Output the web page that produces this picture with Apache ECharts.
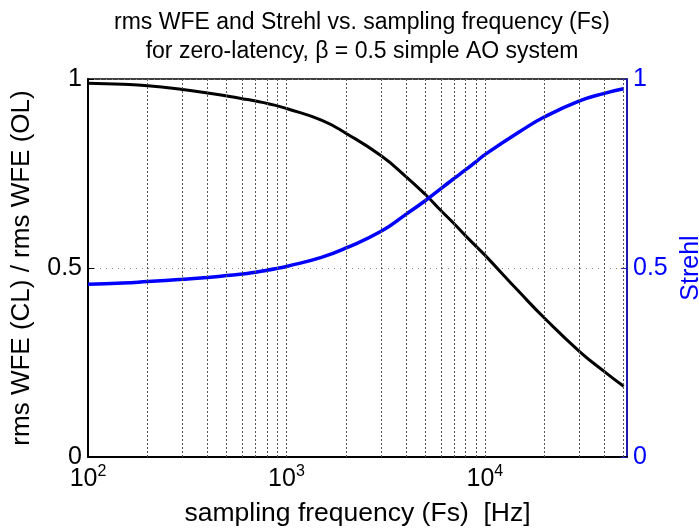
<!DOCTYPE html>
<html>
<head>
<meta charset="utf-8">
<script src="https://cdn.jsdelivr.net/npm/echarts@6/dist/echarts.min.js"></script>
<style>html,body{margin:0;padding:0;background:#fff;}#c{width:699px;height:531px;}</style>
</head>
<body>
<div id="c"></div>
<script>
// ---- data ----
var fsValues = [100, 150, 200, 300, 400, 500, 600, 700, 800, 900, 1000, 1500, 2000, 3000, 4000, 5000, 6000, 7000, 8000, 9000, 10000, 15000, 20000, 30000, 40000, 50000];
var wfeRatio = [0.989, 0.986, 0.982, 0.972, 0.963, 0.955, 0.948, 0.942, 0.935, 0.929, 0.922, 0.891, 0.856, 0.797, 0.742, 0.695, 0.652, 0.617, 0.585, 0.558, 0.534, 0.435, 0.367, 0.279, 0.226, 0.187];
var strehl   = [0.457, 0.460, 0.464, 0.470, 0.475, 0.480, 0.484, 0.489, 0.494, 0.499, 0.504, 0.528, 0.553, 0.597, 0.642, 0.678, 0.710, 0.737, 0.760, 0.781, 0.800, 0.861, 0.900, 0.942, 0.962, 0.974];
var gridFs = [200, 300, 400, 500, 600, 700, 800, 900, 1000, 2000, 3000, 4000, 5000, 6000, 7000, 8000, 9000, 10000, 20000, 30000, 40000, 50000];
var xMin = 100, xMax = 52000;
var titleText = 'rms WFE and Strehl vs. sampling frequency (Fs)\nfor zero-latency, \u03b2 = 0.5 simple AO system';
var xName = 'sampling frequency (Fs)  [Hz]';
var yLeftName = 'rms WFE (CL) / rms WFE (OL)';
var yRightName = 'Strehl';

var FONT = '"Liberation Sans", Arial, Helvetica, sans-serif';
function pairs(xs, ys) { return xs.map(function (x, i) { return [x, ys[i]]; }); }
function yLabel(v) { return v === 0 ? '0' : (v === 1 ? '1' : (v === 0.5 ? '0.5' : '')); }

var chart = echarts.init(document.getElementById('c'), null, {renderer: 'canvas'});
chart.setOption({
  animation: false,
  backgroundColor: '#fff',
  title: {
    text: titleText,
    left: 357, textAlign: 'center', top: 3,
    textStyle: {fontFamily: FONT, fontSize: 23, fontWeight: 'normal', color: '#000', lineHeight: 29}
  },
  grid: {left: 88, right: 72, top: 79, bottom: 74, show: true, borderColor: '#000', borderWidth: 1.5, containLabel: false, outerBoundsMode: 'none'},
  xAxis: {
    type: 'log', logBase: 10, min: xMin, max: xMax,
    name: xName, nameLocation: 'middle', nameGap: 43,
    nameTextStyle: {fontFamily: FONT, fontSize: 26.5, color: '#000'},
    axisLine: {show: true, lineStyle: {color: '#000', width: 2}},
    axisTick: {show: false},
    splitLine: {show: false},
    axisLabel: {
      margin: 7, showMaxLabel: false,
      formatter: function (v) {
        var e = Math.round(Math.log10(v));
        if (Math.abs(Math.pow(10, e) - v) > 1e-6 * v) return '';
        return '{b|10}{s|' + e + '}';
      },
      rich: {
        b: {fontFamily: FONT, fontSize: 25, color: '#000'},
        s: {fontFamily: FONT, fontSize: 16, color: '#000', padding: [0, 0, 14, 0]}
      }
    }
  },
  yAxis: [{
    type: 'value', min: 0, max: 1, interval: 0.5, position: 'left',
    name: yLeftName, nameLocation: 'middle', nameGap: 53, nameRotate: 90,
    nameTextStyle: {fontFamily: FONT, fontSize: 26, color: '#000'},
    axisLine: {show: true, lineStyle: {color: '#000', width: 2}},
    axisTick: {show: true, inside: true, length: 6, lineStyle: {color: '#000', width: 1}},
    splitLine: {show: true, lineStyle: {color: '#888', type: [1, 5], width: 1}},
    axisLabel: {margin: 6, fontFamily: FONT, fontSize: 25, color: '#000', formatter: yLabel}
  }, {
    type: 'value', min: 0, max: 1, interval: 0.5, position: 'right',
    name: yRightName, nameLocation: 'middle', nameGap: 46, nameRotate: 90,
    nameTextStyle: {fontFamily: FONT, fontSize: 25, color: '#0000ff'},
    axisLine: {show: true, lineStyle: {color: '#1c1cb0', width: 2}},
    axisTick: {show: true, inside: true, length: 6, lineStyle: {color: '#1c1cb0', width: 1}},
    splitLine: {show: false},
    axisLabel: {margin: 6, fontFamily: FONT, fontSize: 25, color: '#0000ff', formatter: yLabel}
  }],
  series: [{
    type: 'line', name: 'grid', data: [], silent: true,
    markLine: {
      silent: true, symbol: ['none', 'none'], label: {show: false},
      lineStyle: {color: '#555', type: [2, 2], width: 1},
      data: gridFs.map(function (f) { return {xAxis: f}; })
    }
  }, {
    type: 'line', name: 'rms WFE ratio', yAxisIndex: 0,
    data: pairs(fsValues, wfeRatio), smooth: 0.5, showSymbol: false,
    lineStyle: {color: '#000', width: 3}
  }, {
    type: 'line', name: 'Strehl', yAxisIndex: 1,
    data: pairs(fsValues, strehl), smooth: 0.5, showSymbol: false,
    lineStyle: {color: '#0000ff', width: 3.5}
  }]
});
</script>
</body>
</html>
